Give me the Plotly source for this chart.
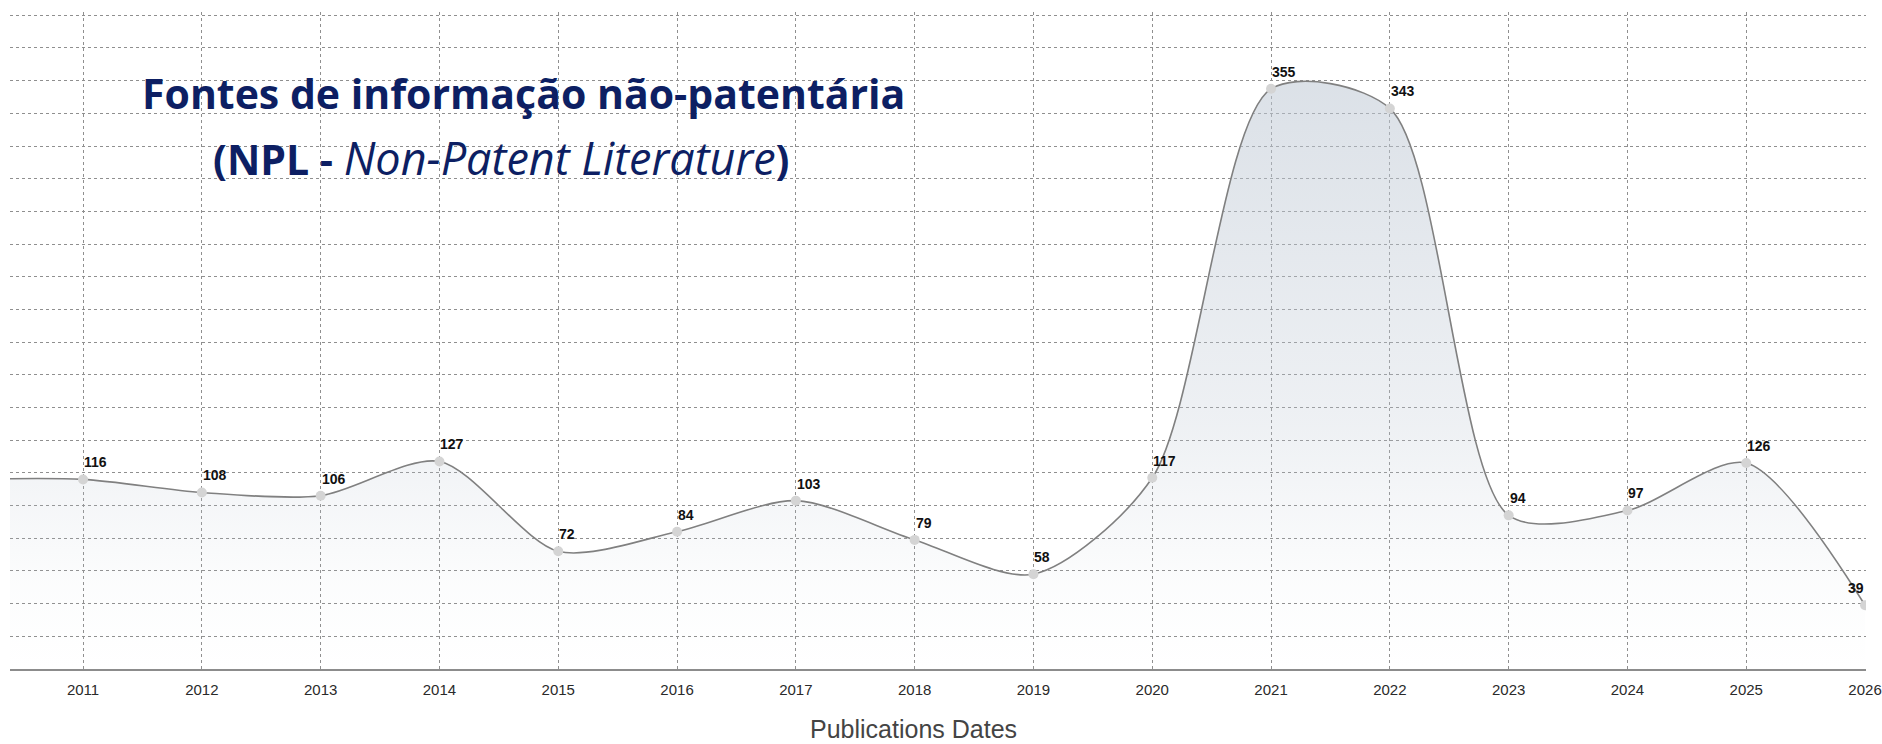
import plotly.graph_objects as go

# Data (2010 is just off the left edge of the view; line appears flat there)
years = [2010, 2011, 2012, 2013, 2014, 2015, 2016, 2017, 2018, 2019, 2020,
         2021, 2022, 2023, 2024, 2025, 2026]
values = [116, 116, 108, 106, 127, 72, 84, 103, 79, 58, 117,
          355, 343, 94, 97, 126, 39]
tick_years = list(range(2011, 2027))
tick_labels = [str(y) for y in tick_years]

title_line1 = "<b>Fontes de informação não-patentária</b>"
title_line2 = ("<b>(NPL - </b><span style='font-size:45px'><i>Non-Patent Literature</i></span>"
               "<b>)</b>")
x_title = "Publications Dates"

fig = go.Figure()
fig.add_trace(go.Scatter(
    x=years, y=values,
    mode="lines+markers",
    line=dict(color="#808080", width=1.6, shape="spline", smoothing=0.8),
    marker=dict(size=10, color="#d4d4d4", line=dict(width=0)),
    fill="tozeroy",
    fillgradient=dict(
        type="vertical",
        start=0, stop=355,
        colorscale=[[0, "rgba(190,200,212,0.0)"],
                    [0.15, "rgba(190,200,212,0.05)"],
                    [0.42, "rgba(190,200,212,0.26)"],
                    [1, "rgba(190,200,212,0.54)"]],
    ),
    hoverinfo="x+y",
    showlegend=False,
))

annotations = []
for i, (yr, v) in enumerate(zip(years, values)):
    if yr < tick_years[0]:
        continue
    last = (i == len(years) - 1)
    annotations.append(dict(
        x=yr, y=v, xref="x", yref="y", text=str(v), showarrow=False,
        xanchor="center" if last else "left", yanchor="bottom",
        xshift=-9 if last else -1, yshift=7,
        font=dict(family="Liberation Sans", size=14, color="#111111", weight="bold"),
    ))

annotations += [
    dict(text=title_line1, xref="paper", yref="paper", x=0.0702, y=0.877,
         xanchor="left", yanchor="middle", showarrow=False,
         font=dict(family="Open Sans", size=41, color="#0d1f63")),
    dict(text=title_line2, xref="paper", yref="paper", x=0.1085, y=0.778,
         xanchor="left", yanchor="middle", showarrow=False,
         font=dict(family="Open Sans", size=41, color="#0d1f63")),
    dict(text=x_title, xref="paper", yref="paper", x=0.487, y=-0.092,
         xanchor="center", yanchor="middle", showarrow=False,
         font=dict(family="Liberation Sans", size=25, color="#444444")),
]

fig.update_layout(
    width=1882, height=744,
    margin=dict(l=10, r=16, t=12, b=75, autoexpand=False),
    paper_bgcolor="white",
    plot_bgcolor="white",
    xaxis=dict(
        range=[2010.385, 2026.008], automargin=False,
        tickmode="array", tickvals=tick_years, ticktext=tick_labels,
        showgrid=True, gridcolor="#8f8f8f", gridwidth=1, griddash="dot",
        showline=True, linecolor="#8c8c8c", linewidth=2,
        zeroline=False, ticks="", ticklabelstandoff=6,
        tickfont=dict(family="Liberation Sans", size=15, color="#2a2a2a"),
    ),
    yaxis=dict(
        range=[0, 402], dtick=20, tick0=0, automargin=False,
        showgrid=True, gridcolor="#8f8f8f", gridwidth=1, griddash="dot",
        showticklabels=False, zeroline=False, showline=False, ticks="",
    ),
    annotations=annotations,
)

fig.write_html("out.html", config={"displayModeBar": False},
               post_script="document.body.style.margin='0';")
